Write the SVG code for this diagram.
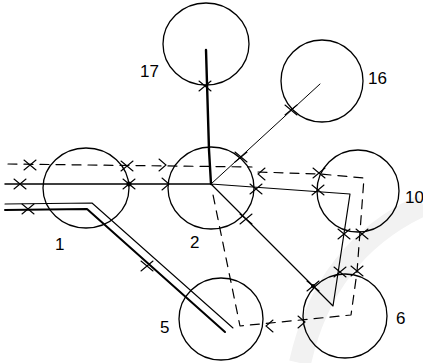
<svg xmlns="http://www.w3.org/2000/svg" xmlns:xlink="http://www.w3.org/1999/xlink" width="423" height="363" viewBox="0 0 423 363">
<style>
.node{fill:none;stroke:#000;stroke-width:1.3}
.lbl{font-family:"Liberation Sans",Arial,sans-serif;font-size:17px;fill:#000}
.ln{fill:none;stroke:#000;stroke-linecap:round;stroke-linejoin:round}
.dash{stroke-dasharray:9 7}
.mk{fill:none;stroke:#000;stroke-width:1.1;stroke-linecap:round}
</style>
<defs>
<path id="x" class="mk" d="M-6,-5 L6,5 M-6,5 L6,-5"/>
<path id="chR" class="mk" d="M-4,-6 L3,0 L-4,6"/>
<path id="chL" class="mk" d="M4,-6 L-3,0 L4,6"/>
</defs>
<rect width="423" height="363" fill="#fff"/>
<path d="M300,363 Q325,250 423,205" fill="none" stroke="#f2f2f2" stroke-width="22"/>
<g id="connectors">
<path class="ln" stroke-width="2.4" d="M206,50 L209,150 L211,184"/>
<path class="ln" stroke-width="1" d="M320,84 L211,184"/>
<path class="ln" stroke-width="1.5" d="M5,184 L211,184"/>
<path class="ln" stroke-width="1.2" d="M211,184 L350,194 L333,306 L211,184"/>
<path class="ln dash" stroke-width="1.2" d="M8,164 L252,167"/>
<path class="ln dash" stroke-width="1.2" d="M258,172 L320,174 L364,178 L357,272 L351,315 L240,326 L212,190"/>
<path class="ln" stroke-width="1.1" d="M5,204 L92,203 L233,328"/>
<path class="ln" stroke-width="2" d="M5,210 L87,209 L225,332"/>
<use href="#x" x="30" y="165"/>
<use href="#x" x="20" y="184"/>
<use href="#x" x="28" y="209"/>
<use href="#x" x="127" y="166"/>
<use href="#x" x="129" y="184"/>
<circle cx="129" cy="184" r="2.5"/>
<use href="#chR" x="163" y="165"/>
<use href="#chR" x="166" y="184"/>
<use href="#x" x="147" y="266"/>
<use href="#x" x="205" y="86"/>
<use href="#x" x="291" y="110"/>
<use href="#x" x="241" y="157"/>
<use href="#chL" x="261" y="174"/>
<use href="#x" x="256" y="189"/>
<use href="#x" x="319" y="173"/>
<use href="#x" x="318" y="190"/>
<use href="#x" x="246" y="219"/>
<use href="#x" x="313" y="286"/>
<circle cx="313" cy="286" r="2"/>
<use href="#x" x="340" y="272"/>
<use href="#x" x="357" y="271"/>
<use href="#x" x="344" y="234"/>
<use href="#x" x="362" y="234"/>
<use href="#chL" x="269" y="326"/>
<use href="#chR" x="302" y="322"/>
</g>
<g id="n17"><ellipse class="node" cx="206" cy="44" rx="43" ry="41"/><text class="lbl" x="140" y="77" font-size="14">17</text></g>
<g id="n16"><ellipse class="node" cx="322" cy="81" rx="41" ry="41"/><text class="lbl" x="368" y="84" font-size="15">16</text></g>
<g id="n2"><ellipse class="node" cx="211" cy="188" rx="43" ry="41"/><text class="lbl" x="190" y="248">2</text></g>
<g id="n1"><ellipse class="node" cx="86" cy="188" rx="43" ry="40"/><text class="lbl" x="55" y="250">1</text></g>
<g id="n10"><ellipse class="node" cx="358" cy="191" rx="41" ry="41"/><text class="lbl" x="405" y="203" font-size="15">10</text></g>
<g id="n6"><ellipse class="node" cx="345" cy="316" rx="42" ry="42"/><text class="lbl" x="396" y="324">6</text></g>
<g id="n5"><ellipse class="node" cx="221" cy="319" rx="42" ry="41"/><text class="lbl" x="160" y="333">5</text></g>
</svg>
